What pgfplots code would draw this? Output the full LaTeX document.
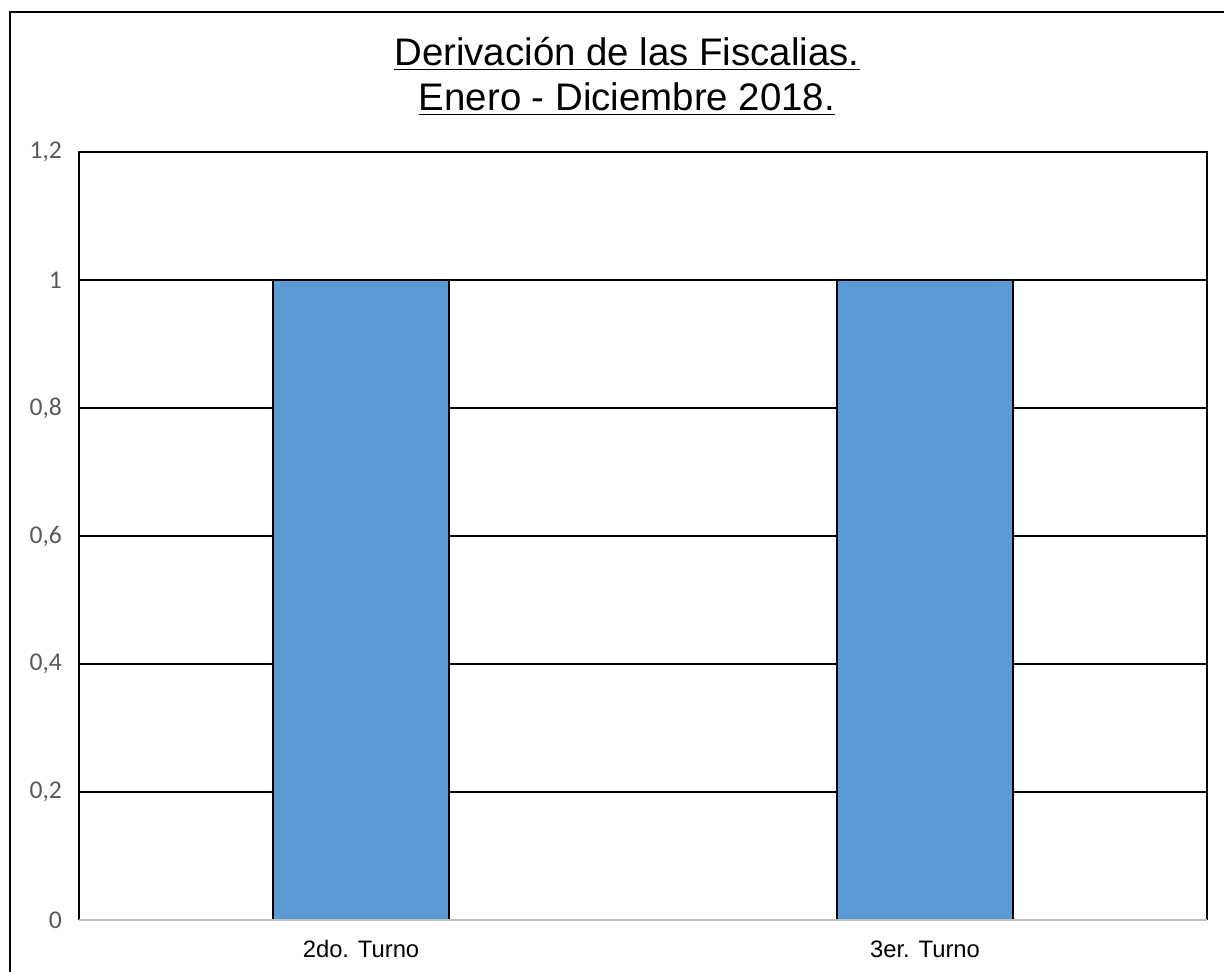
\documentclass[border=0pt]{standalone}
\usepackage{fontspec}
\setmainfont{Liberation Sans}
\newfontfamily\carlito{Carlito}
\usepackage{pgfplots}
\pgfplotsset{compat=1.18}
\definecolor{barblue}{HTML}{5B9BD5}
\definecolor{ticktext}{HTML}{595959}
\definecolor{axgray}{HTML}{BFBFBF}
\begin{document}
\begin{tikzpicture}
\useasboundingbox (-39.5pt,-25.5pt) rectangle (572.5pt,460pt);
\draw[line width=0.9pt] (-34.5pt,-30pt) -- (-34.5pt,454pt) -- (580pt,454pt);
\begin{axis}[
  at={(0,0)}, anchor=south west,
  scale only axis, width=564pt, height=384pt,
  xmin=-0.5, xmax=1.5, ymin=0, ymax=1.2,
  ybar, bar width=88pt,
  xtick={0,1}, xticklabels={2do. Turno,3er. Turno},
  ytick={0,0.2,0.4,0.6,0.8,1,1.2},
  yticklabels={0,{0,2},{0,4},{0,6},{0,8},1,{1,2}},
  yticklabel style={font=\carlito\fontsize{12.8}{14}\selectfont, text=ticktext, xshift=-5pt},
  xticklabel style={font=\fontsize{11.9}{13}\selectfont, text height=9pt, text depth=2pt, yshift=-6pt},
  major tick length=0pt,
  ymajorgrids, grid style={black, line width=0.6pt},
  axis line style={draw=none},
  clip=false,
]
\addplot[fill=barblue, draw=black, line width=0.6pt] coordinates {(0,1) (1,1)};
\draw[black, line width=0.7pt] (rel axis cs:0,0) -- (rel axis cs:0,1) -- (rel axis cs:1,1) -- (rel axis cs:1,0);
\draw[axgray, line width=1pt] (rel axis cs:0,0) -- (rel axis cs:1,0);
\end{axis}
\node[anchor=base, font=\fontsize{19.2}{22}\selectfont] at (274pt,427pt) {\underline{Derivación de las Fiscalias.}};
\node[anchor=base, font=\fontsize{19.2}{22}\selectfont] at (274pt,404.5pt) {\underline{Enero - Diciembre 2018.}};
\end{tikzpicture}
\end{document}
